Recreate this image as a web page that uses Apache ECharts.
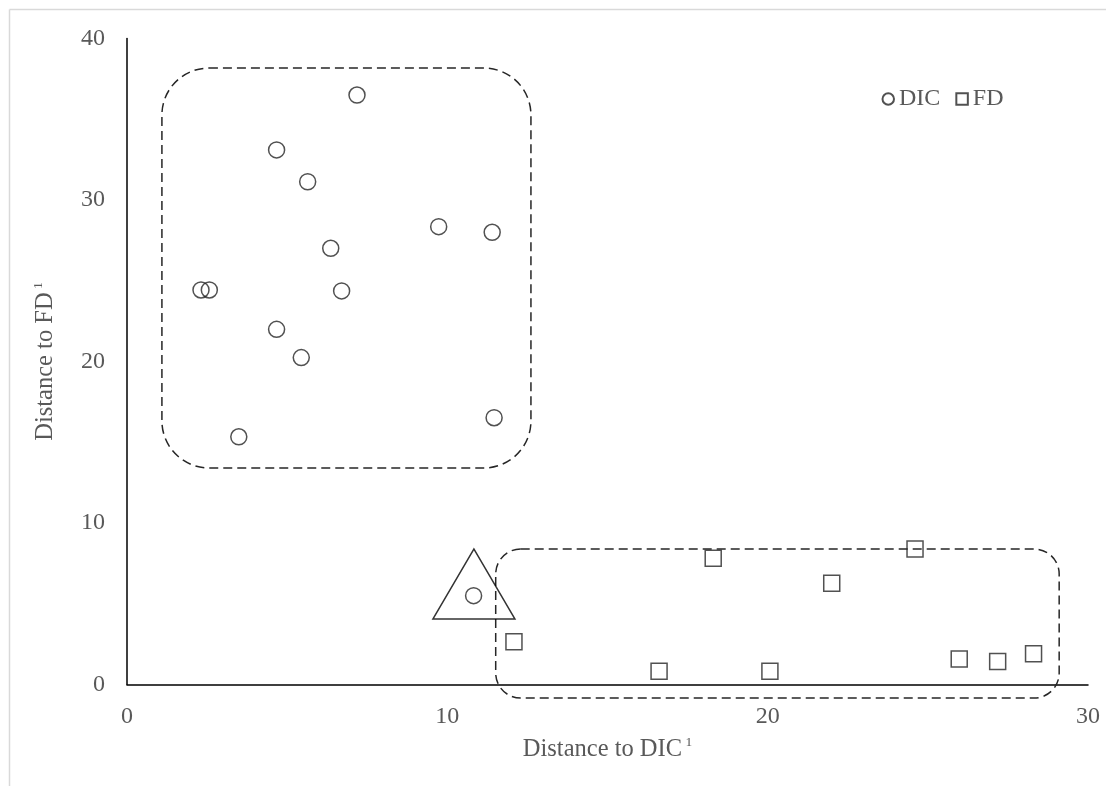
<!DOCTYPE html>
<html>
<head>
<meta charset="utf-8">
<script src="https://cdn.jsdelivr.net/npm/echarts@6/dist/echarts.min.js"></script>
<style>html,body{margin:0;padding:0;background:#fff}#c{width:1106px;height:786px}</style>
</head>
<body>
<div id="c"></div>
<script>
// Data
const dicPoints = [
  [7.18, 36.50], [4.67, 33.10], [5.64, 31.13], [9.73, 28.35], [11.40, 28.00],
  [6.36, 27.01], [2.31, 24.43], [2.57, 24.43], [6.70, 24.37], [4.67, 21.99],
  [5.44, 20.24], [11.46, 16.52], [3.49, 15.34], [10.82, 5.50]
];
const fdPoints = [
  [12.08, 2.65], [16.61, 0.82], [18.30, 7.81], [20.07, 0.82], [22.00, 6.27],
  [24.60, 8.39], [25.98, 1.58], [27.18, 1.42], [28.30, 1.91]
];
// triangle annotation around the misplaced DIC sample
const highlightPoint = [[10.83, 6.22]];
// dashed cluster boxes: [xMin, yMax, xMax, yMin]
const clusterBoxes = [
  [1.09, 38.17, 12.61, 13.41],
  [11.51, 8.39, 29.10, -0.84]
];
const boxRadius = [47, 25];
const xTickMax = 30, yTickMax = 40, tickStep = 10;
const seriesNames = ['DIC', 'FD'];
const xTitle = 'Distance to DIC';
const yTitle = 'Distance to FD';

const FONT = '"Liberation Serif", "Times New Roman", serif';
const GRAY = '#595959';
const INK = '#262626';

const chart = echarts.init(document.getElementById('c'), null, {renderer: 'canvas'});

const titleRich = {
  t: {fontFamily: FONT, fontSize: 24.5, color: GRAY},
  s: {fontFamily: FONT, fontSize: 13.5, color: GRAY, verticalAlign: 'top', padding: [0, 0, 15, 0]}
};

const option = {
  backgroundColor: '#fff',
  animation: false,
  textStyle: {fontFamily: FONT},
  grid: {left: 127, right: 18, top: 38.5, bottom: 101.5, containLabel: false},
  legend: {
    data: seriesNames,
    left: 881.5, top: 87, padding: 0,
    itemWidth: 11.5, itemHeight: 11.5, itemGap: 15,
    textStyle: {fontFamily: FONT, fontSize: 24, color: GRAY},
    selectedMode: false
  },
  xAxis: {
    type: 'value', min: 0, max: xTickMax, interval: tickStep,
    axisLine: {show: true, lineStyle: {color: '#000', width: 1.5}},
    axisTick: {show: false},
    splitLine: {show: false},
    axisLabel: {fontFamily: FONT, fontSize: 24, color: GRAY, margin: 20},
    name: '{t|' + xTitle + '}{s| 1}',
    nameLocation: 'middle', nameGap: 51,
    nameTextStyle: {rich: titleRich}
  },
  yAxis: {
    type: 'value', min: 0, max: yTickMax, interval: tickStep,
    axisLine: {show: true, lineStyle: {color: '#000', width: 1.5}},
    axisTick: {show: false},
    splitLine: {show: false},
    axisLabel: {fontFamily: FONT, fontSize: 24, color: GRAY, margin: 22},
    name: '{t|' + yTitle + '}{s| 1}',
    nameLocation: 'middle', nameGap: 67, nameRotate: 90,
    nameTextStyle: {rich: titleRich}
  },
  series: [
    {
      name: 'DIC', type: 'scatter', data: dicPoints,
      symbol: 'circle', symbolSize: 16,
      itemStyle: {color: 'rgba(255,255,255,0)', borderColor: INK, borderWidth: 1.5},
      z: 3
    },
    {
      name: 'FD', type: 'scatter', data: fdPoints,
      symbol: 'rect', symbolSize: 16,
      itemStyle: {color: 'rgba(255,255,255,0)', borderColor: INK, borderWidth: 1.5},
      z: 3
    },
    {
      name: 'highlight', type: 'scatter', data: highlightPoint,
      symbol: 'triangle', symbolSize: [82, 70],
      itemStyle: {color: 'rgba(255,255,255,0)', borderColor: '#000', borderWidth: 1.5},
      silent: true, z: 2
    }
  ]
};
chart.setOption(option);

// Build annotation graphics from axis scales
const graphics = [
  {type: 'line', shape: {x1: 9.5, y1: 9.5, x2: 1106, y2: 9.5}, style: {stroke: '#d9d9d9', lineWidth: 1.5}, silent: true},
  {type: 'line', shape: {x1: 9.5, y1: 9.5, x2: 9.5, y2: 786}, style: {stroke: '#d9d9d9', lineWidth: 1.5}, silent: true}
];
clusterBoxes.forEach(function (b, i) {
  const p1 = chart.convertToPixel({gridIndex: 0}, [b[0], b[1]]);
  const p2 = chart.convertToPixel({gridIndex: 0}, [b[2], b[3]]);
  graphics.push({
    type: 'rect',
    shape: {x: p1[0], y: p1[1], width: p2[0] - p1[0], height: p2[1] - p1[1], r: boxRadius[i]},
    style: {fill: 'none', stroke: INK, lineWidth: 1.5, lineDash: [9, 5]},
    silent: true, z: 1
  });
});
chart.setOption({graphic: graphics});
</script>
</body>
</html>
